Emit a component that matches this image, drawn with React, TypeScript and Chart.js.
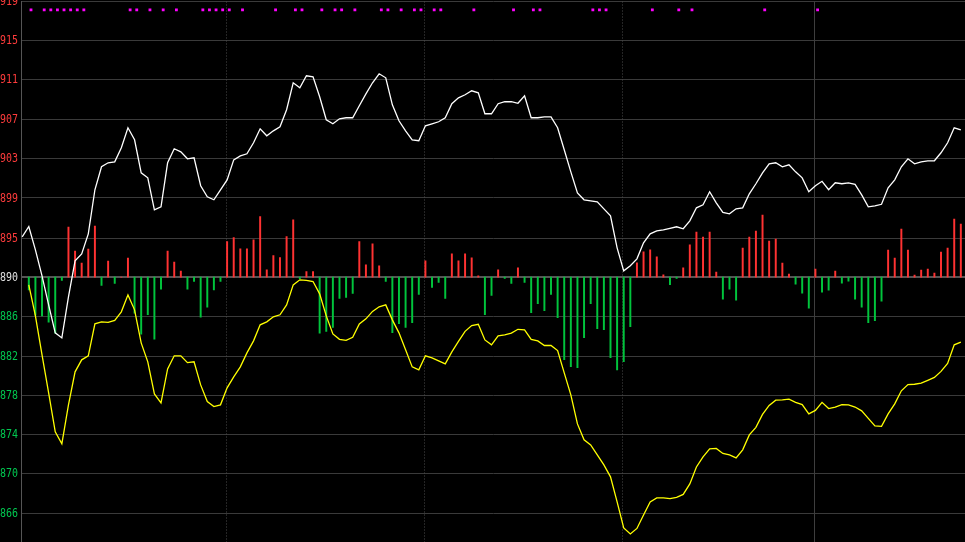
import React, { useEffect, useRef } from 'react';
import { Chart, registerables } from 'chart.js';

Chart.register(...registerables);

// ---- data ----
const PREV_CLOSE = 3890.4;

// index line (white), first value sits at minute index -1
const INDEX_FIRST = -1;
const INDEX_LINE = [
  3894.63, 3895.71, 3893.26, 3890.54, 3887.49, 3884.56, 3884.03, 3888.33, 3892.11, 3892.84,
  3894.94, 3899.56, 3901.97, 3902.39, 3902.49, 3903.96, 3906.06, 3904.80, 3901.34, 3900.81,
  3897.46, 3897.77, 3902.39, 3903.86, 3903.54, 3902.81, 3902.91, 3899.98, 3898.82, 3898.51,
  3899.56, 3900.60, 3902.70, 3903.12, 3903.33, 3904.49, 3905.95, 3905.22, 3905.74, 3906.16,
  3907.95, 3910.78, 3910.25, 3911.51, 3911.41, 3909.31, 3906.90, 3906.48, 3907.00, 3907.11,
  3907.11, 3908.37, 3909.62, 3910.78, 3911.72, 3911.30, 3908.47, 3906.79, 3905.74, 3904.80,
  3904.70, 3906.27, 3906.48, 3906.69, 3907.11, 3908.58, 3909.20, 3909.52, 3909.94, 3909.73,
  3907.53, 3907.53, 3908.58, 3908.79, 3908.79, 3908.63, 3909.41, 3907.11, 3907.11, 3907.21,
  3907.21, 3906.06, 3903.75, 3901.44, 3899.24, 3898.51, 3898.40, 3898.30, 3897.56, 3896.83,
  3893.47, 3891.06, 3891.59, 3892.32, 3894.00, 3894.94, 3895.26, 3895.36, 3895.52, 3895.68,
  3895.47, 3896.30, 3897.67, 3897.98, 3899.35, 3898.19, 3897.18, 3897.04, 3897.56, 3897.67,
  3899.14, 3900.19, 3901.34, 3902.28, 3902.39, 3901.97, 3902.18, 3901.44, 3900.81, 3899.35,
  3899.98, 3900.45, 3899.56, 3900.29, 3900.19, 3900.29, 3900.13, 3899.03, 3897.77, 3897.88,
  3898.04, 3899.77, 3900.60, 3901.97, 3902.81, 3902.28, 3902.49, 3902.60, 3902.60, 3903.44,
  3904.49, 3906.06, 3905.85,
];

// second line (yellow), from minute index 0
const LEAD_LINE = [
  3889.59, 3886.34, 3882.25, 3878.27, 3874.18, 3872.92, 3877.01, 3880.47, 3881.73, 3882.15,
  3885.50, 3885.71, 3885.66, 3885.87, 3886.76, 3888.54, 3886.97, 3883.51, 3881.52, 3878.16,
  3877.22, 3880.78, 3882.15, 3882.15, 3881.44, 3881.52, 3879.10, 3877.35, 3876.83, 3877.01,
  3878.79, 3879.94, 3880.99, 3882.46, 3883.72, 3885.40, 3885.71, 3886.24, 3886.45, 3887.49,
  3889.59, 3890.12, 3890.06, 3889.94, 3888.65, 3886.34, 3884.45, 3883.88, 3883.77, 3884.09,
  3885.50, 3886.03, 3886.81, 3887.29, 3887.49, 3885.92, 3884.56, 3882.78, 3880.99, 3880.68,
  3882.15, 3881.94, 3881.62, 3881.31, 3882.57, 3883.67, 3884.72, 3885.32, 3885.45, 3883.82,
  3883.30, 3884.24, 3884.35, 3884.53, 3884.93, 3884.87, 3883.88, 3883.72, 3883.23, 3883.23,
  3882.70, 3880.36, 3878.06, 3875.01, 3873.34, 3872.81, 3871.76, 3870.71, 3869.46, 3866.83,
  3864.11, 3863.48, 3864.05, 3865.47, 3866.83, 3867.25, 3867.25, 3867.18, 3867.31, 3867.62,
  3868.72, 3870.50, 3871.55, 3872.39, 3872.44, 3871.92, 3871.76, 3871.45, 3872.29, 3873.86,
  3874.65, 3876.01, 3876.95, 3877.50, 3877.53, 3877.60, 3877.27, 3877.04, 3876.06, 3876.43,
  3877.27, 3876.62, 3876.77, 3877.04, 3877.00, 3876.78, 3876.38, 3875.59, 3874.80, 3874.75,
  3876.06, 3877.11, 3878.48, 3879.13, 3879.17, 3879.28, 3879.58, 3879.89, 3880.52, 3881.36,
  3883.30, 3883.58,
];

// red / green strength bars per minute (arbitrary units)
const FLOW_BARS = [
  -12.7, -38, -38.7, -45, -56, -3.3, 50, 26, 14, 28,
  51, -8.4, 16, -6.4, 0, 19, -36, -57, -37.4, -62,
  -12, 26, 15, 6, -12, -4.4, -40, -30, -12.7, -4.4,
  35.6, 39.6, 28.3, 28.3, 37.3, 60.6, 7.3, 21.6, 19.6, 40.6,
  57.3, -1.5, 5.6, 5.6, -56, -54.3, -50.3, -21.3, -20.3, -16.3,
  35.6, 12.3, 33.3, 11.3, -4.4, -55.4, -46.4, -50.3, -45.4, -17.4,
  16.3, -10.4, -5.4, -21.3, 23.3, 16.3, 23.3, 19.3, 1.3, -37.4,
  -18.4, 7.3, -1.4, -6.4, 9.3, -5.4, -35.4, -26.4, -33.4, -17.4,
  -40.4, -82.4, -89.4, -90.4, -60.4, -26.4, -51.4, -52.4, -80.4, -92.7,
  -84.4, -49.4, 14.3, 25.3, 27.3, 20.3, 2.2, -7.5, -1.4, 9.3,
  32.2, 45, 40, 45, 5, -22, -12, -23, 29, 40,
  46, 62, 36, 38, 14, 3, -7, -16, -31, 8,
  -15, -13, 6, -6, -4, -22, -30, -45.4, -43.4, -24,
  27, 19, 48, 27, 2, 7, 8, 4, 25, 29,
  58, 53,
];

// minute indices carrying a magenta signal dot
const SIGNAL_DOTS = [
  0, 2, 3, 4, 5, 6, 7, 8, 15, 16, 18, 20, 22, 26, 27, 28, 29, 30, 32, 37,
  40, 41, 44, 46, 47, 49, 53, 54, 56, 58, 59, 61, 62, 67, 73, 76, 77, 85, 86, 87,
  94, 98, 100, 111, 119,
];

const Y_TICKS = [
  3919.3, 3915.2, 3911.1, 3906.9, 3902.8, 3898.7, 3894.5,
  3890.4, 3886.3, 3882.1, 3878.0, 3873.9, 3869.8, 3865.6,
];
const Y_TICK_LABELS = [
  '3919', '3915', '3911', '3907', '3903', '3899', '3895',
  '3890', '3886', '3882', '3878', '3874', '3870', '3866',
];

const HALF_HOUR_MARKS = [30, 60, 90];
const MIDDAY_MARK = 119;

// ---- styling constants ----
const Y_MIN = 3862.63;
const Y_MAX = 3919.3;
const X_MIN = -1.18;
const X_MAX = 141.63;
const BAR_UNIT = 0.10488;
const DOT_LEVEL = 3918.43;
const DOT_SHIFT = 0.33;
const AXIS_WIDTH = 21;
const LABEL_RIGHT = 18;

const UP = '#ff3232';
const DOWN = '#00c43c';
const TXT_UP = '#ff3c3c';
const TXT_DOWN = '#00c850';
const TXT_BASE = '#e0e0e0';

const bgPlugin = {
  id: 'bgFill',
  beforeDraw(chart: any) {
    const { ctx, width, height } = chart;
    ctx.save();
    ctx.fillStyle = '#000';
    ctx.fillRect(0, 0, width, height);
    ctx.restore();
  },
};

const vLinePlugin = {
  id: 'vLines',
  beforeDatasetsDraw(chart: any) {
    const { ctx, chartArea } = chart;
    const xs = chart.scales.x;
    ctx.save();
    ctx.lineWidth = 1;
    ctx.strokeStyle = '#4a4a4a';
    ctx.setLineDash([1, 2]);
    HALF_HOUR_MARKS.forEach((v) => {
      const px = Math.floor(xs.getPixelForValue(v)) - 0.5;
      ctx.beginPath();
      ctx.moveTo(px, chartArea.top);
      ctx.lineTo(px, chartArea.bottom);
      ctx.stroke();
    });
    ctx.setLineDash([]);
    ctx.strokeStyle = '#3e3e3e';
    const mx = Math.floor(xs.getPixelForValue(MIDDAY_MARK)) - 0.5;
    ctx.beginPath();
    ctx.moveTo(mx, chartArea.top);
    ctx.lineTo(mx, chartArea.bottom);
    ctx.stroke();
    ctx.restore();
  },
};

const labelPlugin = {
  id: 'yLabels',
  afterDraw(chart: any) {
    const { ctx } = chart;
    const ys = chart.scales.y;
    ctx.save();
    ctx.font = '12px "DejaVu Sans Mono"';
    ctx.textAlign = 'right';
    ctx.textBaseline = 'middle';
    Y_TICKS.forEach((v, k) => {
      const py = ys.getPixelForValue(v);
      ctx.fillStyle = v > PREV_CLOSE + 0.01 ? TXT_UP : v < PREV_CLOSE - 0.01 ? TXT_DOWN : TXT_BASE;
      ctx.save();
      ctx.translate(LABEL_RIGHT, py + 0.5);
      ctx.scale(0.83, 1);
      ctx.fillText(Y_TICK_LABELS[k], 0, 0);
      ctx.restore();
    });
    ctx.restore();
  },
};

export default function App() {
  const ref = useRef<HTMLCanvasElement | null>(null);

  useEffect(() => {
    if (!ref.current) return;
    const chart = new Chart(ref.current, {
      type: 'bar',
      data: {
        datasets: [
          {
            type: 'line',
            data: SIGNAL_DOTS.map((i) => ({ x: i + DOT_SHIFT, y: DOT_LEVEL })),
            showLine: false,
            pointStyle: 'rect',
            pointRadius: 2,
            pointBorderWidth: 0,
            pointBackgroundColor: '#ff00ff',
            order: 0,
          } as any,
          {
            type: 'line',
            data: INDEX_LINE.map((v, k) => ({ x: k + INDEX_FIRST, y: v })),
            borderColor: '#ffffff',
            borderWidth: 1.3,
            pointRadius: 0,
            tension: 0,
            order: 1,
          } as any,
          {
            type: 'line',
            data: LEAD_LINE.map((v, i) => ({ x: i, y: v })),
            borderColor: '#ffff00',
            borderWidth: 1.3,
            pointRadius: 0,
            tension: 0,
            order: 2,
          } as any,
          {
            type: 'bar',
            data: FLOW_BARS.map((h, i) => ({ x: i, y: [PREV_CLOSE, PREV_CLOSE + h * BAR_UNIT] })),
            backgroundColor: FLOW_BARS.map((h) => (h >= 0 ? UP : DOWN)),
            borderWidth: 0,
            barThickness: 1.3,
            grouped: false,
            order: 3,
          } as any,
        ],
      },
      options: {
        animation: false,
        responsive: true,
        maintainAspectRatio: false,
        events: [],
        layout: { autoPadding: false, padding: { top: 1.5, left: 0, right: 0, bottom: 0 } },
        plugins: { legend: { display: false }, tooltip: { enabled: false } },
        scales: {
          x: {
            type: 'linear',
            min: X_MIN,
            max: X_MAX,
            display: false,
            offset: false,
            grid: { offset: false },
          },
          y: {
            type: 'linear',
            position: 'left',
            min: Y_MIN,
            max: Y_MAX,
            afterBuildTicks: (s: any) => {
              s.ticks = Y_TICKS.map((v) => ({ value: v }));
            },
            afterFit: (s: any) => {
              s.width = AXIS_WIDTH;
            },
            ticks: { display: false },
            grid: {
              drawTicks: false,
              color: (c: any) => (c.tick && Math.abs(c.tick.value - PREV_CLOSE) < 0.01 ? '#555555' : '#3a3a3a'),
              lineWidth: (c: any) => (c.tick && Math.abs(c.tick.value - PREV_CLOSE) < 0.01 ? 2 : 1),
            },
            border: { display: true, color: '#555555', width: 1 },
          },
        },
      } as any,
      plugins: [bgPlugin, vLinePlugin, labelPlugin],
    });
    return () => chart.destroy();
  }, []);

  return (
    <div style={{ position: 'fixed', left: 0, top: 0, width: 965, height: 542, background: '#000' }}>
      <canvas ref={ref} style={{ display: 'block' }} />
    </div>
  );
}
